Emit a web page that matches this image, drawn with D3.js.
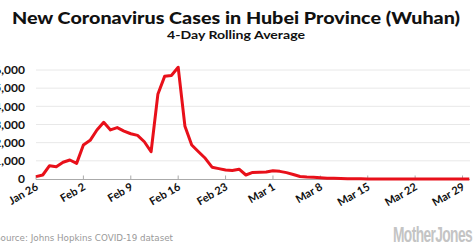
<!DOCTYPE html>
<html><head><meta charset="utf-8">
<script src="https://cdn.jsdelivr.net/npm/d3@7"></script>
<style>body{margin:0;background:#fff}svg{display:block}</style>
</head><body>
<svg id="c" width="474" height="247"></svg>
<script>
const startDate = "2020-01-26";
const values = [130,220,730,680,920,1045,860,1870,2130,2700,3120,2700,2830,2640,2490,2400,2050,1500,4660,5650,5700,6150,2900,1870,1500,1140,650,570,495,470,540,220,360,370,380,450,420,350,250,140,110,90,70,45,35,25,15,10,8,6,5,4,4,3,3,3,2,2,2,2,2,2,2,2,2];
const yTicks = [0,1000,2000,3000,4000,5000,6000];
const xTickLabels = ["Jan 26","Feb 2","Feb 9","Feb 16","Feb 23","Mar 1","Mar 8","Mar 15","Mar 22","Mar 29"];
const title = "New Coronavirus Cases in Hubei Province (Wuhan)";
const subtitle = "4-Day Rolling Average";
const source = "Source: Johns Hopkins COVID-19 dataset";
const logo = "MotherJones";

const parse = d3.timeParse("%Y-%m-%d");
const t0 = parse(startDate);
const data = values.map((v,i)=>({date:d3.timeDay.offset(t0,i), v}));
const svg = d3.select("#c");
const x = d3.scaleTime().domain([t0, d3.timeDay.offset(t0, 64)]).range([36, 469.3]);
const y = d3.scaleLinear().domain([0,6000]).range([179,70]);

svg.append("text").attr("x",236).attr("y",23.5).attr("text-anchor","middle")
  .attr("font-family","Lato").attr("font-weight",900).attr("font-size",16)
  .attr("textLength",448).attr("lengthAdjust","spacingAndGlyphs").attr("fill","#111").text(title);
svg.append("text").attr("x",236).attr("y",38.5).attr("text-anchor","middle")
  .attr("font-family","Lato").attr("font-weight",700).attr("font-size",11)
  .attr("textLength",138).attr("lengthAdjust","spacingAndGlyphs").attr("fill","#111").text(subtitle);

// gridlines
svg.append("g").selectAll("line").data(yTicks.filter(d=>d>0)).join("line")
  .attr("x1",36).attr("x2",470).attr("y1",d=>y(d)).attr("y2",d=>y(d))
  .attr("stroke","#e8e8e8").attr("stroke-width",1);
// y labels
svg.append("g").selectAll("text").data(yTicks).join("text")
  .attr("x",25).attr("y",d=>y(d)).attr("dy","0.36em").attr("text-anchor","end")
  .attr("font-family","Lato").attr("font-weight",700).attr("font-size",12).attr("fill","#111")
  .text(d=>d3.format(",")(d));
// x axis
svg.append("line").attr("x1",36).attr("x2",470).attr("y1",179.5).attr("y2",179.5).attr("stroke","#aaa");
const tickDates = xTickLabels.map((l,i)=>d3.timeDay.offset(t0,i*7));
svg.append("g").selectAll("line").data(tickDates).join("line")
  .attr("x1",d=>x(d)).attr("x2",d=>x(d)).attr("y1",179.5).attr("y2",175.5).attr("stroke","#aaa");
svg.append("g").selectAll("text").data(tickDates).join("text")
  .attr("transform",d=>`translate(${x(d)+3},${189}) rotate(-30)`)
  .attr("text-anchor","end").attr("font-family","Lato").attr("font-weight",700).attr("font-size",11).attr("fill","#111")
  .text((d,i)=>xTickLabels[i]);

// line
svg.append("path").datum(data)
  .attr("d",d3.line().x(d=>x(d.date)).y(d=>y(d.v)))
  .attr("fill","none").attr("stroke","#e8101a").attr("stroke-width",3).attr("stroke-linejoin","round");

svg.append("text").attr("x",-5).attr("y",241).attr("font-family","DejaVu Sans").attr("font-size",9.5)
  .attr("fill","#999").attr("textLength",178).attr("lengthAdjust","spacingAndGlyphs").text(source);
svg.append("text").attr("x",393).attr("y",242).attr("font-family","Liberation Sans Narrow, Liberation Sans").attr("font-weight",700).attr("font-size",22)
  .attr("fill","#c4c4c4").attr("textLength",79).attr("lengthAdjust","spacingAndGlyphs").attr("letter-spacing",-1).text(logo);
</script>
</body></html>
